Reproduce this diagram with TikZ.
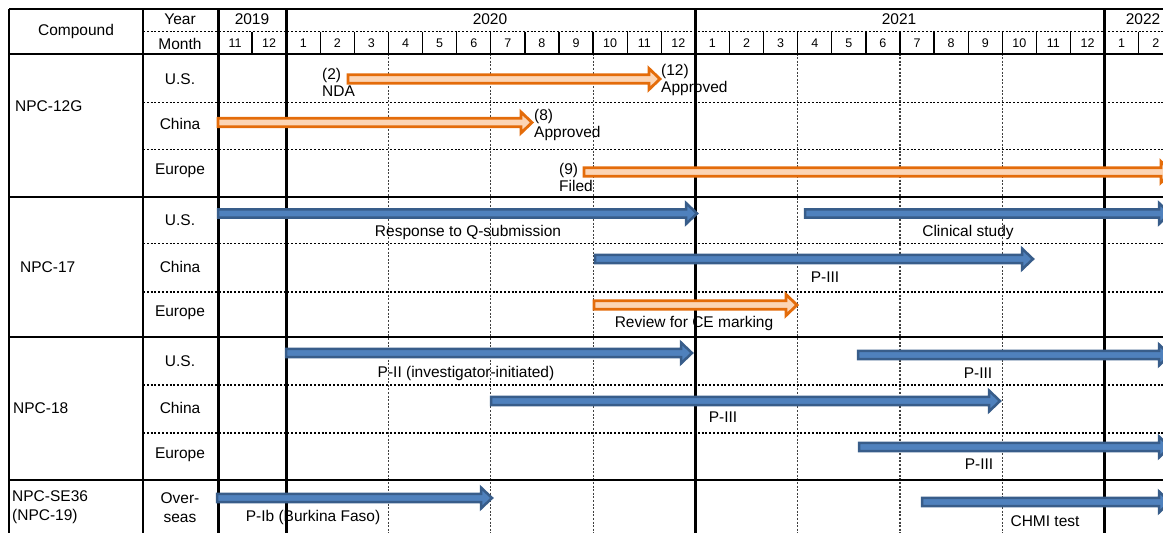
\documentclass[tikz,border=0pt]{standalone}
\usepackage{fontspec}
\setmainfont{Liberation Sans}
\usepackage{tikz}

\definecolor{barorange}{RGB}{228,108,10}
\definecolor{barorangefill}{RGB}{252,213,181}
\definecolor{barblue}{RGB}{79,129,189}
\definecolor{barblueline}{RGB}{56,93,138}

% bar with arrow head: style, start x, tip x, centre y
\newcommand{\ganttarrow}[4]{%
	\filldraw[#1] (#2,#4-4.2) -- (#3-11,#4-4.2) -- (#3-11,#4-10.5) -- (#3,#4) -- (#3-11,#4+10.5) -- (#3-11,#4+4.2) -- (#2,#4+4.2) -- cycle;}

\begin{document}
\begin{tikzpicture}[x=1pt,y=-1pt]
					\tikzstyle{every node}=[font=\fontsize{15.5}{19}\selectfont, inner sep=0pt]
					\tikzstyle{mon}=[font=\fontsize{12.5}{14}\selectfont]
					\tikzstyle{note}=[font=\fontsize{15.5}{17}\selectfont, align=left, anchor=west]
					\tikzstyle{rowsep}=[line width=1.6pt, dash pattern=on 2pt off 1.8pt]
					\tikzstyle{qline}=[line width=1.1pt, dash pattern=on 2pt off 1.6pt, black!75]
					\tikzstyle{orangebar}=[draw=barorange, fill=barorangefill, line width=2.8pt]
					\tikzstyle{bluebar}=[draw=barblueline, fill=barblue, line width=2.5pt]
					
					\useasboundingbox (0,0) rectangle (1163,533);
					\clip (0,0) rectangle (1163,533);
					
					% quarter lines in the body
					\foreach \m in {5,8,11,17,20,23} {
						\draw[qline] ({218+34.1*\m},53.5) -- ({218+34.1*\m},533);
					}
					
					% dotted row separators
					\draw[rowsep] (143,31.5) -- (1163,31.5);
					\foreach \y in {102.3,149.3,243.3,292,385,432.7} {
						\draw[rowsep] (143,\y) -- (1163,\y);
					}
					
					% month separators in the header
					\foreach \m in {1,...,27} {
						\draw[line width=1.3pt] ({218+34.1*\m},31.5) -- ({218+34.1*\m},53.5);
					}
					
					% table frame
					\draw[line width=2pt] (9,9) -- (1163,9);
					\foreach \y in {53.5,196.5,337,479.5} {
						\draw[line width=2pt] (9,\y) -- (1163,\y);
					}
					\draw[line width=2pt] (9,9) -- (9,533);
					\draw[line width=2pt] (143,9) -- (143,533);
					\foreach \m in {0,2,14,26} {
						\draw[line width=3pt] ({218+34.1*\m},9) -- ({218+34.1*\m},533);
					}
					
					% header texts
					\node (cmp) at (76,31.5) {Compound};
					\node (yr) at (180,19.5) {Year};
					\node (mo) at (180,43.5) {Month};
					\node (y19) at (252,19.5) {2019};
					\node (y20) at (490,19.5) {2020};
					\node (y21) at (899,19.5) {2021};
					\node (y22) at (1143,19.5) {2022};
					\foreach \m in {0,...,27} {
						\pgfmathtruncatemacro\lab{mod(\m+10,12)+1}
						\node[mon] (m\m) at ({218+34.1*(\m+0.5)},43.5) {\lab};
					}
					
					% compounds and regions
					\node[anchor=west] (c12g) at (15,106) {NPC-12G};
					\node[anchor=west] (c17) at (20,267) {NPC-17};
					\node[anchor=west] (c18) at (13,408) {NPC-18};
					\node[anchor=west, align=left] (c36) at (12,507.5) {NPC-SE36\\(NPC-19)};
					\foreach \y/\reg [count=\i] in {79/U.S., 123.5/China, 171/Europe, 220/U.S., 267/China, 313/Europe, 361/U.S., 408/China, 455/Europe} {
						\node (r\i) at (180,\y) {\reg};
					}
					\node[align=center] (r10) at (180,507.5) {Over-\\seas};
					
					% orange bars
					\foreach \xa/\xb/\yc in {348/660/79, 218/532/122.5, 584/1172/172, 594/797/305} {
						\ganttarrow{orangebar}{\xa}{\xb}{\yc}
					}
					
					% blue bars
					\foreach \xa/\xb/\yc in {218/697/213.5, 805/1170/213.5, 595/1033/259, 286/692/353, 858/1170/355, 491/1000/401, 859/1170/447, 217/492/498, 922/1170/502} {
						\ganttarrow{bluebar}{\xa}{\xb}{\yc}
					}
					
					% bar labels
					\node[note] (nda) at (322,82) {(2)\\NDA};
					\node[note] (apus) at (661,80) {(12)\\Approved};
					\node[note] (apcn) at (534,125) {(8)\\Approved};
					\node[note] (fil) at (559,177.5) {(9)\\Filed};
					\node (qsub) at (468,232) {Response to Q-submission};
					\node (clin) at (968,232) {Clinical study};
					\node (p17cn) at (825,277) {P-III};
					\node (ce) at (694,323) {Review for CE marking};
					\node (p2) at (466,373) {P-II (investigator-initiated)};
					\node (p18us) at (978,373) {P-III};
					\node (p18cn) at (723,417) {P-III};
					\node (p18eu) at (979,464) {P-III};
					\node (pib) at (313,517) {P-Ib (Burkina Faso)};
					\node (chmi) at (1045,521) {CHMI test};
					
					\end{tikzpicture}
\end{document}
